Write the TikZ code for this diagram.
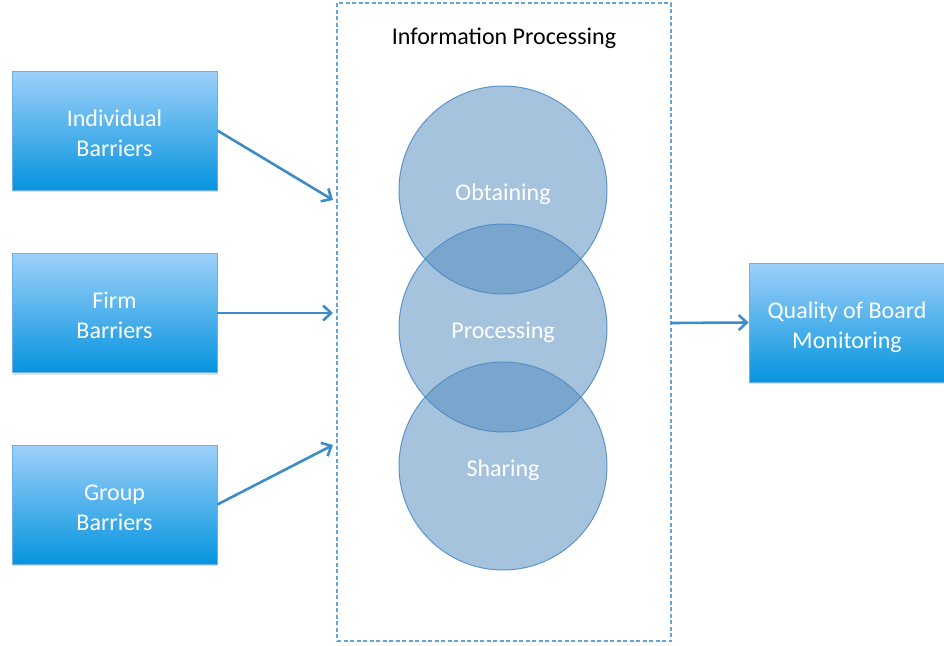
\documentclass[tikz,border=0pt]{standalone}
\usepackage{fontspec}
\setmainfont{Carlito}
\usetikzlibrary{arrows.meta,shadows}
\definecolor{boxtop}{RGB}{158,208,250}
\definecolor{boxbot}{RGB}{5,148,222}
\definecolor{boxedge}{RGB}{110,175,230}
\definecolor{arrowblue}{RGB}{60,140,200}
\definecolor{circfill}{RGB}{78,136,188}
\definecolor{circedge}{RGB}{80,140,200}
\definecolor{frameblue}{RGB}{100,165,215}
% two centred lines in a box of no size, set a little below the centre
\newcommand{\boxlines}[2]{\raisebox{-11pt}[0pt][0pt]{\begin{tabular}{@{}c@{}}#1\\#2\end{tabular}}}
\tikzset{
  barrier/.style={draw=boxedge, line width=0.8pt, top color=boxtop, bottom color=boxbot,
    minimum width=205pt, minimum height=119pt, text=white,
    font=\fontsize{24}{30}\selectfont,
    drop shadow={shadow xshift=1pt, shadow yshift=-2pt, opacity=0.25}},
  stage/.style={circle, draw=circedge, line width=1pt, fill=circfill, fill opacity=0.5,
    draw opacity=0.9, minimum size=208pt, inner sep=0pt},
  stagelabel/.style={text=white, font=\fontsize{24}{28}\selectfont},
  flow/.style={draw=arrowblue, line width=2.6pt, -{Straight Barb[length=8pt, width=15pt, line width=2.6pt]}}
}
\begin{document}
\begin{tikzpicture}[x=1pt, y=-1pt]
  \useasboundingbox (0,0) rectangle (944,645);
  % process frame
  \node[draw=frameblue, dash pattern=on 4pt off 2.5pt, line width=1.2pt,
        minimum width=334pt, minimum height=638pt, inner sep=0pt] (frame) at (504,322) {};
  \node[font=\fontsize{24}{28}\selectfont] (title) at (504,38) {Information Processing};

  % overlapping stages
  \node[stage] (obtain) at (503,190) {};
  \node[stage] (process) at (503,328) {};
  \node[stage] (share) at (503,466) {};
  \node[stagelabel] (obtainlbl) at (503,194) {Obtaining};
  \node[stagelabel] (processlbl) at (503,332) {Processing};
  \node[stagelabel] (sharelbl) at (503,470) {Sharing};

  % barrier boxes
  \node[barrier] (indiv) at (114.5,130.5) {\boxlines{Individual}{Barriers}};
  \node[barrier] (firm) at (114.5,313) {\boxlines{Firm}{Barriers}};
  \node[barrier] (group) at (114.5,504.5) {\boxlines{Group}{Barriers}};
  \node[barrier, minimum width=196pt] (quality) at (847,322.5) {\boxlines{Quality of Board}{Monitoring}};

  % arrow targets at the frame
  \coordinate (indivend) at (333,200);
  \coordinate (firmend) at (333,313);
  \coordinate (groupend) at (333,445);
  \coordinate (framestart) at (671,323);

  \draw[flow] (indiv.east) -- (indivend);
  \draw[flow] (firm.east) -- (firmend);
  \draw[flow] (group.east) -- (groupend);
  \draw[flow] (framestart) -- (quality.west);
\end{tikzpicture}
\end{document}
